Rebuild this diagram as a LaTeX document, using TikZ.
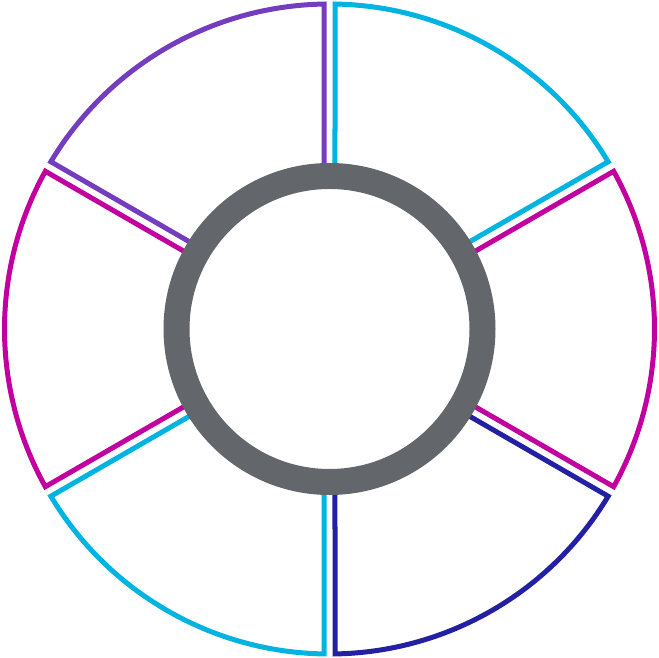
\documentclass[tikz,border=0pt]{standalone}
\begin{document}
\begin{tikzpicture}[x=1pt,y=1pt,
  seg/.style={line width=5pt,line join=miter},
  hub/.style={line width=26pt,draw=hubgray}]
\definecolor{cy}{RGB}{0,180,226}
\definecolor{mg}{RGB}{194,0,160}
\definecolor{pu}{RGB}{116,60,190}
\definecolor{db}{RGB}{36,32,164}
\definecolor{hubgray}{RGB}{99,102,106}
\useasboundingbox (0,0) rectangle (659,658);
\newcommand\ringseg[3]{\draw[seg,draw=#3] ({#1+0.97}:325pt) arc[start angle={#1+0.97}, end angle={#2-0.97}, radius=325pt] -- ({#2-2.06}:153pt) arc[start angle={#2-2.06}, end angle={#1+2.06}, radius=153pt] -- cycle;}
\begin{scope}[shift={(329.5,329)}]
\ringseg{30}{90}{cy}
\ringseg{-30}{30}{mg}
\ringseg{-90}{-30}{db}
\ringseg{-150}{-90}{cy}
\ringseg{150}{210}{mg}
\ringseg{90}{150}{pu}
\draw[hub] (0,0) circle[radius=153pt];
\end{scope}
\end{tikzpicture}
\end{document}
